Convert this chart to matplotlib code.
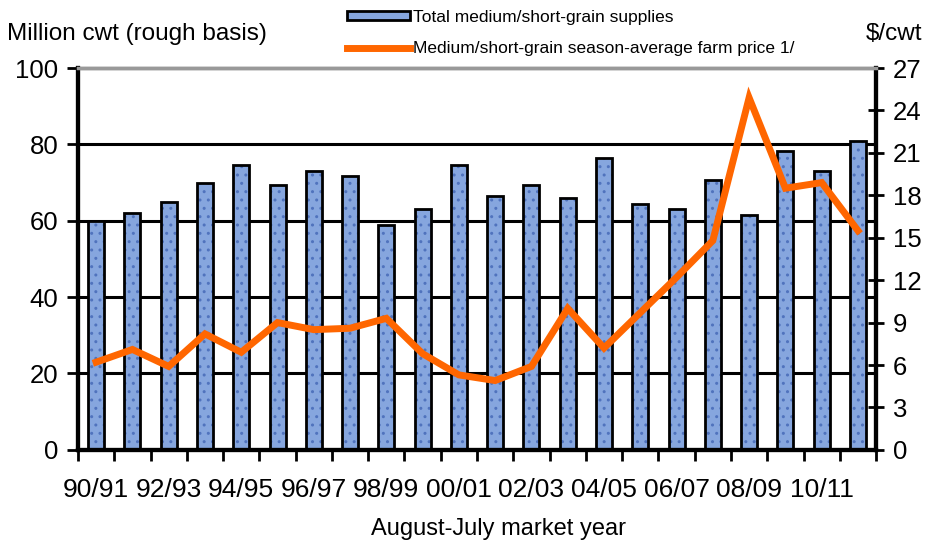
import matplotlib
matplotlib.use('Agg')
import matplotlib.pyplot as plt
from matplotlib.patches import Patch
from matplotlib.lines import Line2D

plt.rcParams['font.family'] = ['Liberation Sans', 'DejaVu Sans']
plt.rcParams['hatch.linewidth'] = 1.0

# Data
years = ['90/91', '91/92', '92/93', '93/94', '94/95', '95/96', '96/97', '97/98',
         '98/99', '99/00', '00/01', '01/02', '02/03', '03/04', '04/05', '05/06',
         '06/07', '07/08', '08/09', '09/10', '10/11', '11/12']
supplies = [60, 62, 65, 70, 74.6, 69.4, 73, 71.7, 59, 63, 74.6, 66.5,
            69.4, 66, 76.4, 64.4, 63, 70.7, 61.5, 78.3, 73, 81]
price = [6.2, 7.1, 5.9, 8.2, 6.9, 9.0, 8.5, 8.6, 9.3, 6.8, 5.3, 4.9,
         5.9, 10.0, 7.2, 9.7, 12.2, 14.8, 24.9, 18.5, 18.9, 15.5]

bar_face = '#86a6de'
dot_color = '#5073bd'
orange = '#ff6600'

fig = plt.figure(figsize=(9.32, 5.42), dpi=100)
ax = fig.add_axes([0.0837, 0.170, 0.8563, 0.7045])
ax2 = ax.twinx()

x = list(range(len(years)))

# Gridlines
for v in [20, 40, 60, 80]:
    ax.axhline(v, color='black', lw=2.2, zorder=1)

# textured fill, then black outline
ax.bar(x, supplies, width=0.44, color=bar_face, edgecolor=dot_color, hatch='..',
       linewidth=0, zorder=2)
ax.bar(x, supplies, width=0.44, fill=False, edgecolor='black', linewidth=2, zorder=2.1)
ax2.plot(x, price, color=orange, lw=5, solid_joinstyle='miter', zorder=3)

ax.set_xlim(-0.5, len(years) - 0.5)
ax.set_ylim(0, 100)
ax2.set_ylim(0, 27)
ax.set_yticks([0, 20, 40, 60, 80, 100])
ax2.set_yticks(range(0, 28, 3))

ax.set_xticks(x[::2])
ax.set_xticklabels(years[::2])
ax.set_xticks([i - 0.5 for i in range(len(years) + 1)], minor=True)
ax.tick_params(axis='x', which='major', length=0, pad=20, labelsize=19)
ax.tick_params(axis='x', which='minor', length=8, width=2, direction='out')
ax.tick_params(axis='y', length=8, width=2, direction='out', labelsize=18.5, pad=6)
ax2.tick_params(axis='y', length=12, width=2, direction='inout', labelsize=18.5, pad=6)

for a in (ax, ax2):
    for s in ['left', 'right', 'bottom']:
        a.spines[s].set_linewidth(3)
        a.spines[s].set_color('black')
    a.spines['top'].set_color('#999999')
    a.spines['top'].set_linewidth(2.5)

fig.text(0.008, 0.937, 'Million cwt (rough basis)', fontsize=17.5, ha='left', va='center')
fig.text(0.99, 0.937, '$/cwt', fontsize=17.5, ha='right', va='center')
fig.text(0.535, 0.024, 'August-July market year', fontsize=17, ha='center', va='center')

handles = [Patch(facecolor=bar_face, edgecolor='black', linewidth=2),
           Line2D([0], [0], color=orange, lw=5)]
labels = ['Total medium/short-grain supplies',
          'Medium/short-grain season-average farm price 1/']
fig.legend(handles, labels, loc='upper left', bbox_to_anchor=(0.365, 0.995),
           frameon=False, fontsize=12.5, handlelength=3.6, handleheight=0.5,
           handletextpad=0.2, labelspacing=0.95, borderaxespad=0)

fig.savefig('out.png', dpi=100)
